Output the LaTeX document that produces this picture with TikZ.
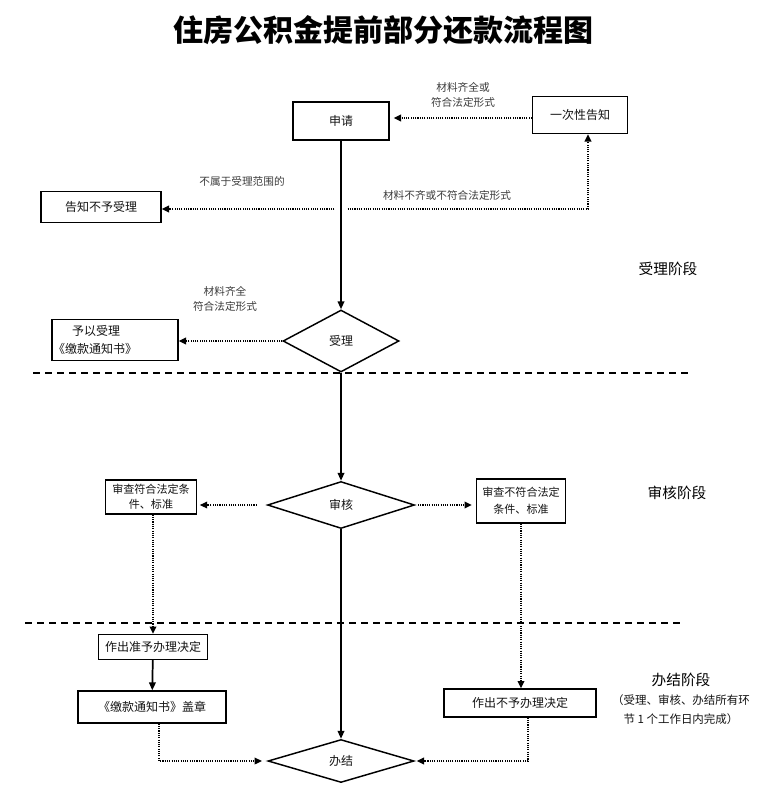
\documentclass[tikz,border=0pt]{standalone}
\usepackage{fontspec}
\setmainfont{Noto Sans CJK SC}
\usetikzlibrary{shapes.geometric,arrows.meta,calc}
\definecolor{flow_text}{HTML}{141414}
\definecolor{flow_label}{HTML}{3C3C3C}

\begin{document}
\begin{tikzpicture}[x=0.75pt, y=-0.75pt,
    box/.style={draw=black, line width=1pt, fill=white, inner sep=0pt, align=center,
      text=flow_text, font=\fontsize{9}{13.5}\selectfont},
    choice/.style={diamond, draw=black, line width=1.1pt, fill=white, inner sep=0pt,
      text=flow_text, font=\fontsize{9}{13.5}\selectfont},
    note/.style={text=flow_label, align=center, font=\fontsize{8}{11.2}\selectfont},
    stage/.style={text=black, font=\fontsize{11}{14}\selectfont},
    flow/.style={line width=1.3pt, -{Triangle[length=6pt,width=5pt]}},
    hint/.style={line width=1.1pt, dash pattern=on 0.8pt off 0.9pt,
      -{Triangle[length=5.5pt,width=5pt]}},
    divider/.style={line width=1.4pt, dash pattern=on 5.5pt off 3.5pt}]

    % Page: 767 x 800 px
    \useasboundingbox (0,0) rectangle (767,800);
    \fill[white] (0,0) rectangle (767,800);

    % Title
    \node[font=\fontsize{22.5}{26}\selectfont\bfseries] (title) at (383,30)
      {住房公积金提前部分还款流程图};

    % Stage dividers
    \draw[divider] (33,373) -- (690,373);
    \draw[divider] (25,623) -- (683,623);

    % Acceptance stage
    \node[box, minimum width=72pt, minimum height=28.5pt] (app) at (341,121) {申请};
    \node[box, minimum width=71.25pt, minimum height=27.75pt] (notice) at (580,115) {一次性告知};
    \node[box, minimum width=90pt, minimum height=23.25pt] (reject) at (101,207) {告知不予受理};
    \node[box, minimum width=94.5pt, minimum height=30.75pt, text width=93pt, align=left]
      (accept) at (115,340) {\hspace*{1.6em}予以受理\\《缴款通知书》};
    \node[choice, minimum width=87pt, minimum height=46.5pt] (acc) at (341,341) {受理};
    \coordinate (split) at (341,209);

    % Review stage
    \node[choice, minimum width=110.25pt, minimum height=35.25pt] (rev) at (341,505) {审核};
    \node[box, minimum width=68.25pt, minimum height=25.5pt,
      font=\fontsize{8.3}{11.3}\selectfont] (revok) at (151,497) {审查符合法定条\\件、标准};
    \node[box, minimum width=66.75pt, minimum height=33pt,
      font=\fontsize{8.3}{13}\selectfont] (revno) at (521,501) {审查不符合法定\\条件、标准};

    % Completion stage
    \node[box, minimum width=81.75pt, minimum height=18.75pt] (grant) at (153,647) {作出准予办理决定};
    \node[box, minimum width=111pt, minimum height=24pt] (stamp) at (152,707) {《缴款通知书》盖章};
    \node[box, minimum width=114pt, minimum height=21pt] (deny) at (520,703) {作出不予办理决定};
    \node[choice, minimum width=109.5pt, minimum height=32.25pt] (done) at (341,761) {办结};

    % Main line
    \draw[flow] (app) -- (acc);
    \draw[flow] (acc) -- (rev);
    \draw[flow] (rev) -- (done);
    \draw[flow] (grant) -- (stamp);

    % Side branches
    \draw[hint, shorten >=3pt] (notice.west |- 0,118) -- (app.east |- 0,118);
    \draw[hint, shorten <=5pt] (split) -- (split -| reject.east);
    \draw[hint, shorten <=5pt] (split) -| ($(notice.south)+(8,0)$);
    \draw[hint] (acc.west) -- (acc.west -| accept.east);
    \draw[hint, shorten <=7.5pt, shorten >=2pt] (rev.west) -- (rev.west -| revok.east);
    \draw[hint, shorten <=2pt, shorten >=3pt] (rev.east) -- (rev.east -| revno.west);
    \draw[hint] (grant.north |- revok.south) -- (grant.north);
    \draw[hint] (revno.south) -- (revno.south |- deny.north);
    \draw[hint, shorten >=4pt] ($(stamp.south)+(7,0)$) |- (done.west);
    \draw[hint, shorten >=1.5pt] ($(deny.south)+(8,0)$) |- (done.east);

    % Branch labels
    \node[note] (lbl_full) at (463,95) {材料齐全或\\符合法定形式};
    \node[note] (lbl_lack) at (447,195) {材料不齐或不符合法定形式};
    \node[note] (lbl_out) at (242,181) {不属于受理范围的};
    \node[note] (lbl_ok) at (225,299) {材料齐全\\符合法定形式};

    % Stage names
    \node[stage] (stage_acc) at (668,269) {受理阶段};
    \node[stage] (stage_rev) at (677,493) {审核阶段};
    \node[stage] (stage_done) at (681,680) {办结阶段};
    \node[note, font=\fontsize{8.6}{14.3}\selectfont, text=flow_text] (stage_time) at (681,710)
      {（受理、审核、办结所有环\\节 1 个工作日内完成）};

\end{tikzpicture}
\end{document}
